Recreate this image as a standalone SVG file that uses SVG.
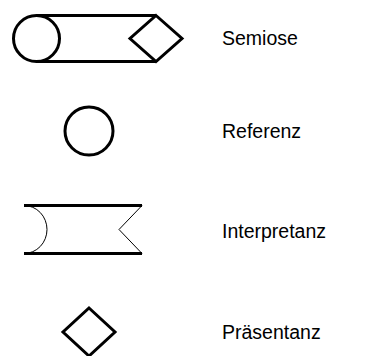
<svg xmlns="http://www.w3.org/2000/svg" width="382" height="356" viewBox="0 0 382 356">
<style>
.thick{fill:none;stroke:#000;stroke-width:3}
.thin{fill:none;stroke:#000;stroke-width:1}
.lbl{font-family:"Liberation Sans",Arial,sans-serif;font-size:19.5px;fill:#000}
</style>
<rect width="382" height="356" fill="#fff"/>
<g id="semiose">
<line class="thick" x1="36" y1="15.5" x2="156" y2="15.5"/>
<line class="thick" x1="36" y1="61.5" x2="156" y2="61.5"/>
<circle class="thick" cx="36.5" cy="38.5" r="23"/>
<polygon class="thick" points="156,15.5 182,38.5 156,61.5 130,38.5"/>
<text class="lbl" x="222" y="44.5">Semiose</text>
</g>
<g id="referenz">
<circle class="thick" cx="89" cy="131" r="24"/>
<text class="lbl" x="222" y="137.5">Referenz</text>
</g>
<g id="interpretanz">
<line class="thick" x1="24" y1="205.5" x2="142" y2="205.5"/>
<line class="thick" x1="24" y1="253.5" x2="142" y2="253.5"/>
<path class="thin" d="M24,205.5 A23,24 0 0 1 24,253.5"/>
<path class="thin" d="M142,205.5 L119,229.5 L142,253.5"/>
<text class="lbl" x="222" y="237.5">Interpretanz</text>
</g>
<g id="praesentanz">
<polygon class="thick" points="89,308 115,332 89,356 63,332"/>
<text class="lbl" x="222" y="338.5">Präsentanz</text>
</g>
</svg>
